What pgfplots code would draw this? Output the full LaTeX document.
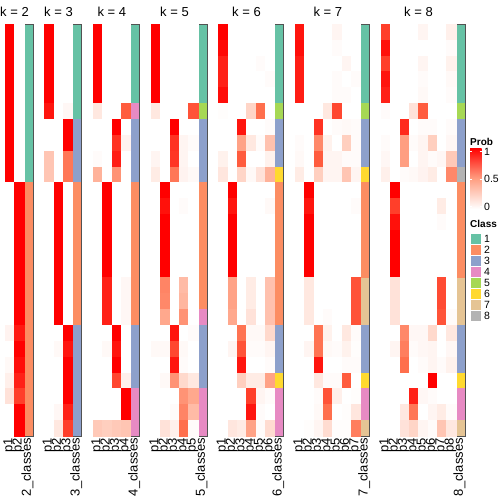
\documentclass[border=0pt]{standalone}
\usepackage{fontspec}
\setmainfont{Liberation Sans}
\usepackage{pgfplots}
\usepackage{pgfplotstable}
\pgfplotsset{compat=1.18}
\definecolor{c1}{HTML}{66C2A5}
\definecolor{c2}{HTML}{FC8D62}
\definecolor{c3}{HTML}{8DA0CB}
\definecolor{c4}{HTML}{E78AC3}
\definecolor{c5}{HTML}{A6D854}
\definecolor{c6}{HTML}{FFD92F}
\definecolor{c7}{HTML}{E5C494}
\definecolor{c8}{HTML}{B3B3B3}
\definecolor{pmid}{RGB}{255,158,129}
\pgfplotsset{
  colormap={prob}{rgb255=(255,255,255) rgb255=(255,207,191) rgb255=(255,158,129) rgb255=(255,104,70) rgb255=(255,0,0)},
  hm/.style={scale only axis, height=412pt, ymin=-0.5, ymax=25.5, y dir=reverse,
    xmin=0.5, ticks=none, axis on top, colormap name=prob, point meta min=0, point meta max=1,
    axis line style={draw=black!68, line width=0.7pt}, anchor=north west},
  hmcell/.style={scatter, only marks, mark=square*, mark size=4.7pt, point meta=explicit,
    scatter/use mapped color={draw=mapped color, fill=mapped color},
    every mark/.append style={yscale=1.70, line width=0.05pt}},
}
\newcommand{\clsrect}[5]{\addplot[draw=none, fill=#5, forget plot] coordinates {(#1,#3) (#2,#3) (#2,#4) (#1,#4)} -- cycle;}
\newcommand{\tfont}{\fontsize{13}{15}\selectfont}
% ---------------- data: one row per sample, one column per class probability
\pgfplotstableread{
r p1 p2
0 1 0
1 1 0
2 1 0
3 1 0
4 1 0
5 1 0
6 1 0
7 1 0
8 1 0
9 1 0
10 0 1
11 0 1
12 0 1
13 0 1
14 0 1
15 0 1
16 0 1
17 0 1
18 0 1
19 0.06 0.94
20 0 1
21 0.03 0.97
22 0.08 0.92
23 0.15 0.85
24 0 1
25 0 1
}\tabA
\pgfplotstableread{
r p1 p2 p3
0 1 0 0
1 1 0 0
2 1 0 0
3 1 0 0
4 1 0 0
5 0.95 0 0.04
6 0 0 1
7 0 0 1
8 0.3 0 0.68
9 0.3 0 0.68
10 0 1 0
11 0 1 0
12 0 1 0
13 0 1 0
14 0 1 0
15 0 1 0
16 0 1 0
17 0 1 0
18 0 1 0
19 0 0 1
20 0 0.03 0.95
21 0 0 1
22 0 0 1
23 0 0 1
24 0 0.04 0.92
25 0 0.12 0.85
}\tabB
\pgfplotstableread{
r p1 p2 p3 p4
0 1 0 0 0
1 1 0 0 0
2 1 0 0 0
3 1 0 0 0
4 1 0 0 0
5 0.12 0 0 0.78
6 0 0 1 0
7 0 0 0.88 0.06
8 0.02 0 0.93 0
9 0.4 0 0.55 0
10 0 1 0 0
11 0 1 0 0
12 0 1 0 0
13 0 1 0 0
14 0 1 0 0
15 0 1 0 0
16 0 0.92 0 0.04
17 0 0.92 0 0.04
18 0 0.92 0 0.04
19 0 0 1 0
20 0 0.03 0.95 0
21 0 0 1 0
22 0 0 0.83 0.08
23 0 0 0 1
24 0 0 0 1
25 0.28 0.25 0.28 0.3
}\tabC
\pgfplotstableread{
r p1 p2 p3 p4 p5
0 1 0 0 0 0
1 1 0 0 0 0
2 1 0 0 0 0
3 1 0 0 0 0
4 1 0 0 0 0
5 0.12 0 0 0 0.8
6 0 0 1 0 0
7 0 0 0.88 0.05 0.02
8 0.05 0 0.87 0.05 0
9 0.1 0 0.68 0.06 0.03
10 0 1 0 0 0
11 0 0.96 0 0.02 0
12 0 1 0 0 0
13 0 1 0 0 0
14 0 1 0 0 0
15 0 1 0 0 0
16 0 0.62 0 0.35 0
17 0 0.6 0 0.38 0
18 0 0.45 0 0.55 0
19 0 0 0.95 0 0.02
20 0.03 0.03 0.83 0.03 0
21 0 0 0.95 0.02 0
22 0 0.03 0.55 0.2 0.12
23 0 0 0 0.55 0.45
24 0 0 0.02 0.62 0.35
25 0 0.15 0.08 0.72 0.02
}\tabD
\pgfplotstableread{
r p1 p2 p3 p4 p5 p6
0 1 0 0 0 0 0
1 0.98 0 0 0 0 0
2 0.92 0 0 0 0.02 0
3 0.92 0 0 0 0 0.02
4 0.97 0 0 0 0 0
5 0.01 0 0 0.22 0.72 0
6 0 0 0.95 0 0 0.02
7 0 0 0.48 0.12 0.02 0.32
8 0.07 0 0.78 0 0 0.07
9 0.13 0 0.22 0.03 0.15 0.4
10 0 1 0 0 0 0
11 0 0.95 0 0 0 0.03
12 0 1 0 0 0 0
13 0 1 0 0 0 0
14 0 1 0 0 0 0
15 0 1 0 0 0 0
16 0 0.48 0 0.1 0 0.32
17 0 0.48 0 0.1 0 0.32
18 0 0.45 0 0.15 0 0.32
19 0 0 0.7 0.03 0.03 0.2
20 0 0.05 0.8 0.02 0.02 0.05
21 0 0 0.95 0 0 0.02
22 0 0 0.25 0.1 0.1 0.48
23 0 0 0 0.85 0.05 0.02
24 0 0 0 0.95 0.02 0
25 0 0.13 0.1 0.48 0.02 0.18
}\tabE
\pgfplotstableread{
r p1 p2 p3 p4 p5 p6 p7
0 0.95 0 0 0 0.05 0 0
1 0.97 0 0 0 0.02 0 0
2 0.93 0 0 0 0 0.05 0
3 0.93 0 0 0 0.02 0 0.02
4 0.93 0 0 0 0.02 0.02 0
5 0 0 0 0.12 0.83 0 0
6 0 0 0.88 0 0.02 0.03 0.02
7 0.02 0 0.6 0.07 0 0.25 0.02
8 0.03 0 0.78 0.05 0.05 0.02 0.02
9 0.1 0 0.25 0.05 0.05 0.3 0.05
10 0 1 0 0 0 0 0
11 0 0.95 0 0 0 0 0.02
12 0 1 0 0 0 0 0
13 0 1 0 0 0 0 0
14 0 1 0 0 0 0 0
15 0 1 0 0 0 0 0
16 0 0.12 0 0 0 0 0.8
17 0 0.12 0 0 0 0 0.8
18 0 0.12 0 0.02 0 0 0.8
19 0 0 0.7 0.07 0 0.12 0.02
20 0 0.05 0.7 0.03 0.02 0.07 0.01
21 0 0 0.95 0 0 0.02 0.02
22 0 0 0.12 0.02 0.02 0.78 0
23 0 0 0.02 0.8 0.08 0 0.01
24 0 0 0.03 0.72 0 0.01 0.13
25 0 0.01 0.05 0.18 0.01 0.01 0.65
}\tabF
\pgfplotstableread{
r p1 p2 p3 p4 p5 p6 p7 p8
0 0.85 0 0 0 0.05 0 0 0.08
1 0.96 0 0 0 0 0 0 0.02
2 0.85 0 0 0 0.05 0 0 0.07
3 0.95 0 0 0 0.02 0 0 0.03
4 0.92 0 0 0 0.03 0 0 0.02
5 0.02 0 0 0.15 0.78 0 0 0
6 0 0 0.9 0 0.02 0.02 0 0.02
7 0.02 0 0.5 0.02 0.05 0.25 0 0.04
8 0.04 0 0.5 0 0.05 0.02 0.04 0.28
9 0.08 0 0.02 0.03 0.06 0.1 0 0.6
10 0 1 0 0 0 0 0 0
11 0 0.85 0 0 0 0 0.1 0
12 0 0.96 0 0 0 0 0.02 0
13 0 1 0 0 0 0 0 0
14 0 1 0 0 0 0 0 0
15 0 1 0 0 0 0 0 0
16 0 0.15 0 0 0 0 0.82 0
17 0 0.15 0 0 0 0 0.82 0
18 0 0.15 0 0 0 0 0.8 0.02
19 0 0 0.6 0.04 0.04 0.2 0 0.12
20 0 0.05 0.65 0.02 0.04 0.05 0 0.04
21 0 0 0.72 0 0.02 0.05 0.02 0.07
22 0 0 0 0 0 1 0 0
23 0 0 0 0.92 0.04 0.02 0 0
24 0 0 0.12 0.68 0 0.05 0.1 0.02
25 0 0 0.15 0.22 0.05 0.02 0.3 0.12
}\tabG
\begin{document}
\begin{tikzpicture}
\path[use as bounding box] (0pt,0pt) rectangle (504pt,-504pt);
% ---------------- k = 2
\begin{axis}[hm, at={(5pt,-24pt)}, width=27.99pt, xmax=3.5]
\pgfplotsinvokeforeach{1,...,2}{\addplot[hmcell] table[x expr=#1, y=r, meta=p#1] {\tabA};}
\clsrect{2.5}{3.5}{-0.5}{9.5}{c1}
\clsrect{2.5}{3.5}{9.5}{25.5}{c2}
\end{axis}
% ---------------- k = 3
\begin{axis}[hm, at={(44.34pt,-24pt)}, width=37.32pt, xmax=4.5]
\pgfplotsinvokeforeach{1,...,3}{\addplot[hmcell] table[x expr=#1, y=r, meta=p#1] {\tabB};}
\clsrect{3.5}{4.5}{-0.5}{5.5}{c1}
\clsrect{3.5}{4.5}{5.5}{9.5}{c3}
\clsrect{3.5}{4.5}{9.5}{18.5}{c2}
\clsrect{3.5}{4.5}{18.5}{25.5}{c3}
\end{axis}
% ---------------- k = 4
\begin{axis}[hm, at={(93.01pt,-24pt)}, width=46.65pt, xmax=5.5]
\pgfplotsinvokeforeach{1,...,4}{\addplot[hmcell] table[x expr=#1, y=r, meta=p#1] {\tabC};}
\clsrect{4.5}{5.5}{-0.5}{4.5}{c1}
\clsrect{4.5}{5.5}{4.5}{5.5}{c4}
\clsrect{4.5}{5.5}{5.5}{9.5}{c3}
\clsrect{4.5}{5.5}{9.5}{18.5}{c2}
\clsrect{4.5}{5.5}{18.5}{22.5}{c3}
\clsrect{4.5}{5.5}{22.5}{25.5}{c4}
\end{axis}
% ---------------- k = 5
\begin{axis}[hm, at={(151.01pt,-24pt)}, width=55.98pt, xmax=6.5]
\pgfplotsinvokeforeach{1,...,5}{\addplot[hmcell] table[x expr=#1, y=r, meta=p#1] {\tabD};}
\clsrect{5.5}{6.5}{-0.5}{4.5}{c1}
\clsrect{5.5}{6.5}{4.5}{5.5}{c5}
\clsrect{5.5}{6.5}{5.5}{9.5}{c3}
\clsrect{5.5}{6.5}{9.5}{17.5}{c2}
\clsrect{5.5}{6.5}{17.5}{18.5}{c4}
\clsrect{5.5}{6.5}{18.5}{22.5}{c3}
\clsrect{5.5}{6.5}{22.5}{25.5}{c4}
\end{axis}
% ---------------- k = 6
\begin{axis}[hm, at={(218.34pt,-24pt)}, width=65.31pt, xmax=7.5]
\pgfplotsinvokeforeach{1,...,6}{\addplot[hmcell] table[x expr=#1, y=r, meta=p#1] {\tabE};}
\clsrect{6.5}{7.5}{-0.5}{4.5}{c1}
\clsrect{6.5}{7.5}{4.5}{5.5}{c5}
\clsrect{6.5}{7.5}{5.5}{8.5}{c3}
\clsrect{6.5}{7.5}{8.5}{9.5}{c6}
\clsrect{6.5}{7.5}{9.5}{18.5}{c2}
\clsrect{6.5}{7.5}{18.5}{21.5}{c3}
\clsrect{6.5}{7.5}{21.5}{22.5}{c6}
\clsrect{6.5}{7.5}{22.5}{25.5}{c4}
\end{axis}
% ---------------- k = 7
\begin{axis}[hm, at={(295pt,-24pt)}, width=74.64pt, xmax=8.5]
\pgfplotsinvokeforeach{1,...,7}{\addplot[hmcell] table[x expr=#1, y=r, meta=p#1] {\tabF};}
\clsrect{7.5}{8.5}{-0.5}{4.5}{c1}
\clsrect{7.5}{8.5}{4.5}{5.5}{c5}
\clsrect{7.5}{8.5}{5.5}{8.5}{c3}
\clsrect{7.5}{8.5}{8.5}{9.5}{c6}
\clsrect{7.5}{8.5}{9.5}{15.5}{c2}
\clsrect{7.5}{8.5}{15.5}{18.5}{c7}
\clsrect{7.5}{8.5}{18.5}{21.5}{c3}
\clsrect{7.5}{8.5}{21.5}{22.5}{c6}
\clsrect{7.5}{8.5}{22.5}{24.5}{c4}
\clsrect{7.5}{8.5}{24.5}{25.5}{c7}
\end{axis}
% ---------------- k = 8
\begin{axis}[hm, at={(380.99pt,-24pt)}, width=83.97pt, xmax=9.5]
\pgfplotsinvokeforeach{1,...,8}{\addplot[hmcell] table[x expr=#1, y=r, meta=p#1] {\tabG};}
\clsrect{8.5}{9.5}{-0.5}{4.5}{c1}
\clsrect{8.5}{9.5}{4.5}{5.5}{c5}
\clsrect{8.5}{9.5}{5.5}{8.5}{c3}
\clsrect{8.5}{9.5}{8.5}{9.5}{c8}
\clsrect{8.5}{9.5}{9.5}{15.5}{c2}
\clsrect{8.5}{9.5}{15.5}{18.5}{c7}
\clsrect{8.5}{9.5}{18.5}{21.5}{c3}
\clsrect{8.5}{9.5}{21.5}{22.5}{c6}
\clsrect{8.5}{9.5}{22.5}{24.5}{c4}
\clsrect{8.5}{9.5}{24.5}{25.5}{c7}
\end{axis}
% ---------------- titles
\foreach \k/\xc in {2/19.0, 3/63.0, 4/116.3, 5/179.0, 6/251.0, 7/332.3, 8/423.0}{
  \node[font=\tfont, anchor=base] at (\xc pt-4.5pt,-16pt) {k = \k};
}
% ---------------- column labels
\foreach \L/\K in {5/2, 44.34/3, 93.01/4, 151.01/5, 218.34/6, 295/7, 380.99/8}{
  \foreach \j in {1,...,\K}{
    \node[font=\tfont, rotate=90, anchor=mid east, inner sep=0pt] at ({(\L+\j*9.33-4.665)*1pt},-438pt) {p\j};
  }
  \node[font=\tfont, rotate=90, anchor=mid east, inner sep=0pt] at ({(\L+\K*9.33+4.665)*1pt},-438pt) {\K\_classes};
}
% ---------------- legends
\node[font=\fontsize{10}{12}\selectfont\bfseries, anchor=base west, inner sep=0pt] at (470pt,-145pt) {Prob};
\shade[top color=red, bottom color=white, middle color=pmid] (470pt,-148pt) rectangle (481.7pt,-209pt);
\foreach \yy in {-151.5,-179,-206.5}{
  \draw[white, line width=0.5pt] (470pt,\yy pt) -- (472pt,\yy pt);
  \draw[white, line width=0.5pt] (479.7pt,\yy pt) -- (481.7pt,\yy pt);
}
\node[font=\fontsize{10.5}{12}\selectfont, anchor=west, inner sep=0pt] at (484pt,-151.5pt) {1};
\node[font=\fontsize{10.5}{12}\selectfont, anchor=west, inner sep=0pt] at (484pt,-179pt) {0.5};
\node[font=\fontsize{10.5}{12}\selectfont, anchor=west, inner sep=0pt] at (484pt,-206.5pt) {0};
\node[font=\fontsize{10}{12}\selectfont\bfseries, anchor=base west, inner sep=0pt] at (470pt,-227pt) {Class};
\foreach \i/\c in {1/c1,2/c2,3/c3,4/c4,5/c5,6/c6,7/c7,8/c8}{
  \fill[\c, draw=white, line width=0.4pt] (470.5pt,{(-233.5-(\i-1)*11)*1pt}) rectangle (481.5pt,{(-233.5-\i*11)*1pt});
  \node[font=\fontsize{10.5}{12}\selectfont, anchor=west, inner sep=0pt] at (484pt,{(-233.5-(\i-0.5)*11)*1pt}) {\i};
}
\end{tikzpicture}
\end{document}
